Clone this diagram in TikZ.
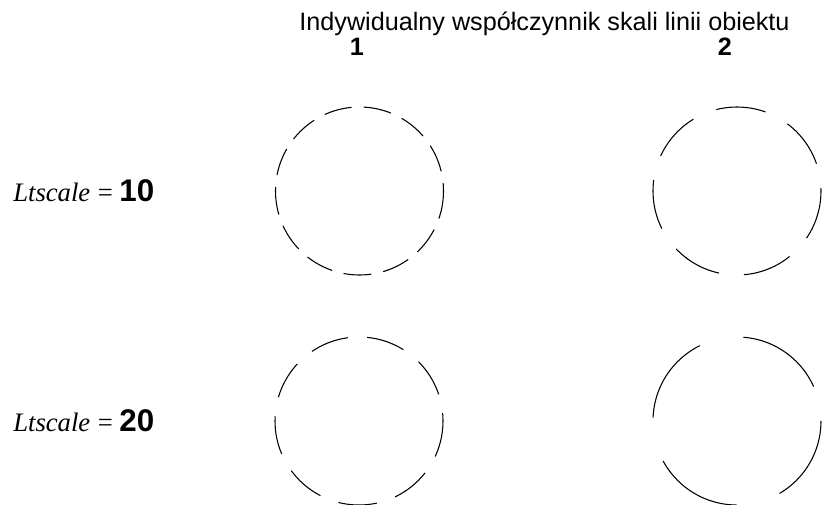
\documentclass[tikz,border=0pt]{standalone}
\usepackage{fontspec}
\setmainfont{Liberation Sans}
\newfontfamily\timesfont{Liberation Serif}
\tikzset{
    lt10/.style={line width=0.8pt,dash pattern=on 21pt off 9pt},
    lt20/.style={line width=0.8pt,dash pattern=on 37.5pt off 18.75pt},
    lt20b/.style={line width=0.8pt,dash pattern=on 29pt off 14.5pt,dash phase=1.5pt},
    lt40/.style={line width=0.8pt,dash pattern=on 67.5pt off 33.75pt,dash phase=2pt},
    ltlabel/.style={anchor=base west,inner sep=0pt},
    colnum/.style={anchor=base,inner sep=0pt,text height=12.6pt,text depth=0pt,font=\fontsize{18.9}{21}\selectfont\bfseries},
}
\newcommand{\ltrow}[1]{{\timesfont\fontsize{20}{24}\selectfont\itshape Ltscale}\hspace{5.6pt}{\timesfont\fontsize{20}{24}\selectfont =}\hspace{5pt}{\fontsize{23.5}{26}\selectfont\bfseries #1}}
\begin{document}
\begin{tikzpicture}[x=0.75pt,y=-0.75pt]
    \useasboundingbox (0,0) rectangle (822,504);

    \node[anchor=base,inner sep=0pt,text depth=0pt,font=\fontsize{18.9}{21}\selectfont] (title) at (544.5,30.7) {Indywidualny współczynnik skali linii obiektu};
    \node[colnum] (col1) at (357,55) {1};
    \node[colnum] (col2) at (725,55) {2};

    \node[ltlabel] (row1) at (13,201) {\ltrow{10}};
    \node[ltlabel] (row2) at (13,431) {\ltrow{20}};

    \draw[lt10] (359.5,191) circle[radius=84];
    \draw[lt20] (737,191) circle[radius=84];
    \draw[lt20b] (359,421) circle[radius=84];
    \draw[lt40] (737,421) circle[radius=84];

\end{tikzpicture}
\end{document}
